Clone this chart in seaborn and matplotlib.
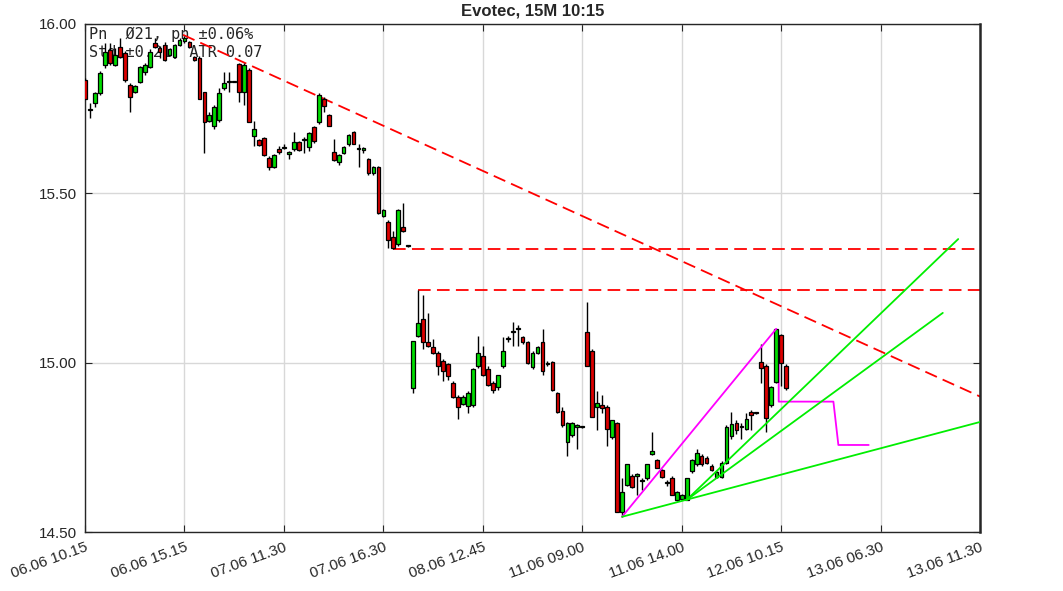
import numpy as np
import pandas as pd
import seaborn as sns
import matplotlib
matplotlib.use("Agg")
import matplotlib.pyplot as plt

# 15M bars, Evotec
opens = [15.835, 15.745, 15.767, 15.796, 15.879, 15.923, 15.879, 15.932, 15.914, 15.820,
         15.800, 15.829, 15.858, 15.873, 15.944, 15.930, 15.938, 15.908, 15.903, 15.938,
         15.950, 15.947, 15.903, 15.900, 15.800, 15.714, 15.700, 15.717, 15.811, 15.830,
         15.830, 15.882, 15.800, 15.864, 15.670, 15.657, 15.663, 15.604, 15.578, 15.631,
         15.634, 15.616, 15.630, 15.652, 15.657, 15.637, 15.696, 15.710, 15.780, 15.731,
         15.622, 15.592, 15.619, 15.646, 15.681, 15.630, 15.628, 15.600, 15.560, 15.578,
         15.433, 15.415, 15.371, 15.350, 15.400, 15.345, 14.925, 15.080, 15.130, 15.060,
         15.047, 15.030, 15.005, 14.997, 14.940, 14.900, 14.878, 14.872, 14.875, 14.990,
         15.020, 14.980, 14.940, 14.928, 14.990, 15.070, 15.090, 15.100, 15.076, 15.060,
         14.987, 15.030, 15.060, 14.995, 15.003, 14.910, 14.857, 14.766, 14.787, 14.810,
         14.810, 15.090, 15.035, 14.870, 14.875, 14.870, 14.780, 14.822, 14.560, 14.640,
         14.666, 14.665, 14.650, 14.660, 14.730, 14.712, 14.683, 14.645, 14.660, 14.595,
         14.597, 14.595, 14.680, 14.700, 14.725, 14.720, 14.695, 14.663, 14.663, 14.705,
         14.783, 14.822, 14.810, 14.804, 14.855, 14.850, 15.003, 14.990, 14.875, 14.943,
         15.082, 14.990]
highs = [15.840, 15.767, 15.800, 15.860, 15.944, 15.944, 15.930, 15.958, 15.920, 15.825,
         15.820, 15.875, 15.885, 15.925, 15.960, 15.935, 15.947, 15.930, 15.940, 15.960,
         15.965, 15.950, 15.905, 15.905, 15.800, 15.740, 15.760, 15.810, 15.858, 15.858,
         15.832, 15.885, 15.885, 15.870, 15.715, 15.660, 15.665, 15.610, 15.615, 15.640,
         15.645, 15.625, 15.680, 15.655, 15.665, 15.680, 15.700, 15.796, 15.785, 15.735,
         15.660, 15.615, 15.640, 15.675, 15.685, 15.645, 15.636, 15.605, 15.580, 15.580,
         15.455, 15.420, 15.390, 15.455, 15.470, 15.348, 15.065, 15.215, 15.200, 15.147,
         15.070, 15.035, 15.010, 15.000, 14.945, 14.905, 14.905, 14.915, 14.985, 15.080,
         15.050, 14.990, 14.945, 14.965, 15.075, 15.078, 15.120, 15.110, 15.080, 15.065,
         15.035, 15.050, 15.100, 15.005, 15.005, 14.912, 14.870, 14.825, 14.825, 14.820,
         14.812, 15.180, 15.040, 14.915, 14.905, 14.875, 14.830, 14.825, 14.660, 14.700,
         14.670, 14.675, 14.660, 14.700, 14.795, 14.715, 14.685, 14.655, 14.665, 14.620,
         14.612, 14.660, 14.715, 14.745, 14.730, 14.725, 14.700, 14.680, 14.710, 14.815,
         14.855, 14.830, 14.822, 14.850, 14.860, 14.852, 15.055, 14.995, 14.930, 15.100,
         15.085, 14.995]
lows = [15.780, 15.722, 15.755, 15.790, 15.870, 15.880, 15.875, 15.900, 15.830, 15.740,
        15.795, 15.825, 15.850, 15.870, 15.930, 15.900, 15.890, 15.905, 15.900, 15.935,
        15.945, 15.930, 15.890, 15.780, 15.620, 15.710, 15.690, 15.710, 15.805, 15.800,
        15.828, 15.770, 15.760, 15.710, 15.640, 15.640, 15.610, 15.570, 15.575, 15.615,
        15.630, 15.600, 15.625, 15.625, 15.620, 15.625, 15.650, 15.705, 15.740, 15.700,
        15.595, 15.585, 15.615, 15.640, 15.645, 15.578, 15.620, 15.555, 15.555, 15.440,
        15.430, 15.340, 15.336, 15.345, 15.385, 15.342, 14.910, 15.075, 15.040, 15.045,
        15.025, 14.965, 14.945, 14.950, 14.895, 14.834, 14.875, 14.850, 14.870, 14.985,
        14.960, 14.930, 14.910, 14.920, 14.985, 15.060, 15.050, 15.050, 15.055, 14.995,
        14.980, 15.025, 14.965, 14.990, 14.915, 14.850, 14.810, 14.725, 14.780, 14.745,
        14.808, 14.990, 14.840, 14.800, 14.850, 14.755, 14.775, 14.560, 14.545, 14.635,
        14.630, 14.610, 14.625, 14.655, 14.728, 14.690, 14.660, 14.635, 14.610, 14.593,
        14.595, 14.595, 14.675, 14.695, 14.695, 14.700, 14.680, 14.660, 14.660, 14.700,
        14.775, 14.790, 14.775, 14.800, 14.800, 14.848, 14.940, 14.795, 14.870, 14.940,
        14.930, 14.920]
closes = [15.780, 15.746, 15.796, 15.855, 15.917, 15.885, 15.908, 15.903, 15.835, 15.785,
          15.817, 15.873, 15.879, 15.917, 15.932, 15.917, 15.894, 15.926, 15.938, 15.953,
          15.958, 15.932, 15.894, 15.780, 15.710, 15.731, 15.755, 15.796, 15.826, 15.830,
          15.830, 15.800, 15.880, 15.710, 15.690, 15.643, 15.613, 15.578, 15.613, 15.622,
          15.634, 15.622, 15.652, 15.628, 15.657, 15.678, 15.654, 15.790, 15.758, 15.700,
          15.598, 15.613, 15.637, 15.672, 15.646, 15.630, 15.634, 15.560, 15.578, 15.442,
          15.450, 15.362, 15.340, 15.450, 15.390, 15.345, 15.064, 15.117, 15.060, 15.050,
          15.030, 14.990, 14.975, 14.960, 14.900, 14.870, 14.900, 14.910, 14.980, 15.030,
          14.965, 14.935, 14.920, 14.963, 15.035, 15.070, 15.090, 15.100, 15.060, 15.000,
          15.030, 15.047, 14.976, 15.000, 14.920, 14.855, 14.816, 14.822, 14.822, 14.815,
          14.810, 14.990, 14.840, 14.880, 14.866, 14.805, 14.830, 14.560, 14.618, 14.700,
          14.633, 14.670, 14.650, 14.700, 14.738, 14.690, 14.663, 14.645, 14.610, 14.618,
          14.610, 14.660, 14.713, 14.733, 14.700, 14.705, 14.683, 14.677, 14.705, 14.810,
          14.820, 14.800, 14.810, 14.834, 14.845, 14.850, 14.985, 14.837, 14.928, 15.100,
          15.000, 14.925]

tick_pos = [0, 20, 40, 60, 80, 100, 120, 140, 160, 180]
tick_labels = ['06.06 10.15', '06.06 15.15', '07.06 11.30', '07.06 16.30', '08.06 12.45',
               '11.06 09.00', '11.06 14.00', '12.06 10.15', '13.06 06.30', '13.06 11.30']

# trend lines (bar index, price)
res_x = [19.7, 180]
res_y = [15.968, 14.900]
lvl1_x = [62, 180]
lvl1_y = [15.336, 15.336]
lvl2_x = [67, 180]
lvl2_y = [15.215, 15.215]
mag_x = [108, 139]
mag_y = [14.545, 15.100]
step_x = [139.5, 139.5, 150.5, 151.5, 157.6]
step_y = [15.000, 14.885, 14.885, 14.757, 14.757]
sup_x = [108, 180]
sup_y = [14.545, 14.825]
fan1_x = [121, 175.6]
fan1_y = [14.595, 15.365]
fan2_x = [121, 172.5]
fan2_y = [14.595, 15.147]

sns.set_style('ticks')
plt.rcParams['font.family'] = ['Liberation Sans', 'DejaVu Sans']

df = pd.DataFrame({'i': np.arange(len(opens)), 'o': opens, 'h': highs, 'l': lows, 'c': closes})
up = df['c'] >= df['o']

fig = plt.figure(figsize=(10.63, 5.91), dpi=100)
ax = fig.add_axes([0.0800, 0.0998, 0.8420, 0.8596])

# candles
ax.vlines(df['i'], df['l'], df['h'], color='black', lw=1.0, zorder=3)
body = (df['c'] - df['o']).abs().clip(lower=0.003)
ax.bar(df['i'], body, bottom=np.minimum(df['o'], df['c']), width=0.75,
       color=np.where(up, '#00dd00', '#dd0000'), edgecolor='black', lw=0.9, zorder=4)

# lines
dash = (0, (7, 3.5))
for xs, ys in [(res_x, res_y), (lvl1_x, lvl1_y), (lvl2_x, lvl2_y)]:
    sns.lineplot(x=xs, y=ys, color='#ff0000', lw=1.3, linestyle=dash, ax=ax,
                 estimator=None, sort=False, zorder=2)
sns.lineplot(x=mag_x, y=mag_y, color='#ff00ff', lw=1.3, ax=ax, estimator=None, sort=False, zorder=5)
sns.lineplot(x=step_x, y=step_y, color='#ff00ff', lw=1.3, ax=ax, estimator=None, sort=False, zorder=2)
for xs, ys in [(sup_x, sup_y), (fan1_x, fan1_y), (fan2_x, fan2_y)]:
    sns.lineplot(x=xs, y=ys, color='#00ee00', lw=1.3, ax=ax, estimator=None, sort=False, zorder=5)

ax.set_xlim(0, 180)
ax.set_ylim(14.5, 16.0)
ax.set_xticks(tick_pos)
ax.set_xticklabels(tick_labels, rotation=20, ha='right', rotation_mode='anchor', fontsize=11, color='#262626')
ax.set_yticks([14.5, 15.0, 15.5, 16.0])
ax.set_yticklabels(['%.2f' % v for v in [14.5, 15.0, 15.5, 16.0]], fontsize=11, color='#262626')
ax.tick_params(direction='in', top=True, right=True, length=5, width=0.8, color='#262626', pad=6)
ax.grid(True, color='#d8d8d8', lw=1.0, zorder=0)
ax.set_axisbelow(True)
for s in ax.spines.values():
    s.set_color('#262626')
    s.set_linewidth(1.0)
ax.spines['right'].set_linewidth(1.8)
ax.set_xlabel('')
ax.set_ylabel('')

ax.set_title('Evotec, 15M 10:15', fontsize=12, fontweight='bold', pad=6)
ax.text(0.004, 0.995, 'Pn  \u00d821, pn \u00b10.06%\nStd \u00b10.21, ATR 0.07', transform=ax.transAxes,
        family='DejaVu Sans Mono', fontsize=11, va='top', ha='left', linespacing=1.3, zorder=1)

fig.savefig('out.png', dpi=100)
